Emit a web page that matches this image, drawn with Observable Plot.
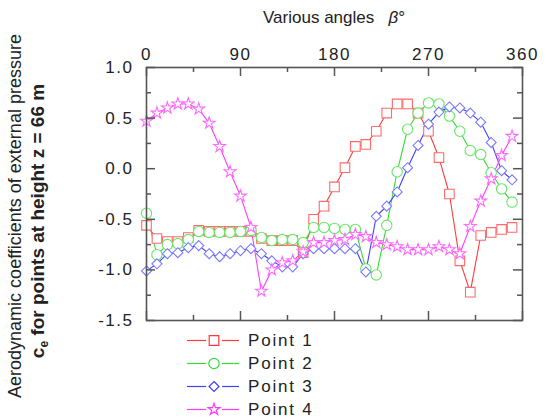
<!DOCTYPE html>
<html>
<head>
<meta charset="utf-8">
<script src="https://cdn.jsdelivr.net/npm/d3@7"></script>
<script src="https://cdn.jsdelivr.net/npm/@observablehq/plot@0.6"></script>
<style>
  html, body { margin: 0; padding: 0; background: #fff; }
  #wrap { position: relative; width: 547px; height: 419px; overflow: hidden; font-family: "Liberation Sans", Arial, sans-serif; color: #222; }
  #wrap svg.plot { position: absolute; left: 0; top: 0; }
  .lbl { position: absolute; white-space: nowrap; transform: translate(-50%, -50%) rotate(-90deg); }
  #title { position: absolute; left: 334px; top: 18px; transform: translate(-50%, -50%); font-size: 17px; white-space: nowrap; }
  #legend { position: absolute; left: 186px; top: 329px; }
  .row { display: flex; align-items: center; height: 23px; font-size: 17px; letter-spacing: 1.8px; }
  .row svg { display: block; margin-right: 6px; }
</style>
</head>
<body>
<div id="wrap"></div>
<script>
// ---- data ----
const angles = [0,10,20,30,40,50,60,70,80,90,100,110,120,130,140,150,160,170,180,190,200,210,220,230,240,250,260,270,280,290,300,310,320,330,340,350];
const point1 = [-0.56,-0.69,-0.72,-0.72,-0.68,-0.61,-0.62,-0.62,-0.62,-0.62,-0.62,-0.69,-0.71,-0.71,-0.71,-0.83,-0.50,-0.37,-0.18,0.01,0.22,0.24,0.37,0.55,0.64,0.64,0.55,0.37,0.11,-0.25,-0.91,-1.22,-0.66,-0.63,-0.60,-0.58];
const point2 = [-0.44,-0.85,-0.75,-0.74,-0.70,-0.62,-0.63,-0.63,-0.63,-0.62,-0.61,-0.68,-0.71,-0.70,-0.70,-0.73,-0.58,-0.58,-0.59,-0.60,-0.60,-0.99,-1.05,-0.56,-0.03,0.39,0.55,0.65,0.64,0.52,0.37,0.18,0.14,-0.04,-0.20,-0.33];
const point3 = [-1.01,-0.94,-0.84,-0.83,-0.78,-0.76,-0.84,-0.87,-0.84,-0.81,-0.79,-0.84,-0.91,-0.97,-0.97,-0.84,-0.79,-0.79,-0.79,-0.79,-0.79,-1.02,-0.47,-0.37,-0.23,0.01,0.23,0.44,0.56,0.61,0.60,0.55,0.46,0.26,-0.02,-0.11];
const point4 = [0.47,0.55,0.60,0.64,0.64,0.59,0.45,0.22,-0.03,-0.27,-0.58,-1.21,-1.00,-0.93,-0.91,-0.82,-0.73,-0.73,-0.71,-0.70,-0.65,-0.67,-0.73,-0.75,-0.77,-0.80,-0.80,-0.80,-0.77,-0.80,-0.84,-0.57,-0.32,-0.10,0.13,0.32];
const seriesNames = ["Point 1","Point 2","Point 3","Point 4"];
const xMajorTicks = [0,90,180,270,360];
const xMinorTicks = [45,135,225,315];
const yMajorTicks = [-1.5,-1.0,-0.5,0.0,0.5,1.0];
const yMinorTicks = [-1.25,-0.75,-0.25,0.25,0.75];
const xTitle = "Various angles";
const yTitle1 = "Aerodynamic coefficients of external pressure";
const yTitle2 = "for points at height z = 66 m";

// ---- styles ----
const lineColors = ["#ff3b3b","#33dd33","#3f3fff","#ff3bff"];
const markColors = ["#ff6a6a","#66e866","#7a7aff","#ff6aff"];
const symbols = ["square","circle","diamond2","star"];
const radii = [5.4, 5.2, 4.5, 3.7];

const values = [point1, point2, point3, point4];
const data = [];
values.forEach((arr, s) => arr.forEach((v, i) => data.push({series: seriesNames[s], angle: angles[i], value: v})));

const W = 547, H = 419, mt = 67, mb = 99, ml = 146, mr = 25;
const fw = W - ml - mr, fh = H - mt - mb;
const axisColor = "#555";

const marks = [];
seriesNames.forEach((name, s) => {
  marks.push(Plot.line(data.filter(d => d.series === name), {x: "angle", y: "value", stroke: lineColors[s], strokeWidth: 1.1}));
});
seriesNames.forEach((name, s) => {
  marks.push(Plot.dot(data.filter(d => d.series === name), {x: "angle", y: "value", symbol: symbols[s], r: radii[s], stroke: markColors[s], fill: "white", strokeWidth: 1.1}));
});
// ticks (inward, mirrored on all four sides)
marks.push(
  Plot.ruleX(xMajorTicks, {x: d => d, insetBottom: fh - 9, stroke: axisColor, strokeWidth: 1.5}),
  Plot.ruleX(xMinorTicks, {x: d => d, insetBottom: fh - 5, stroke: axisColor, strokeWidth: 1.5}),
  Plot.ruleX(xMajorTicks, {x: d => d, insetTop: fh - 9, stroke: axisColor, strokeWidth: 1.5}),
  Plot.ruleX(xMinorTicks, {x: d => d, insetTop: fh - 5, stroke: axisColor, strokeWidth: 1.5}),
  Plot.ruleY(yMajorTicks, {y: d => d, insetRight: fw - 9, stroke: axisColor, strokeWidth: 1.5}),
  Plot.ruleY(yMinorTicks, {y: d => d, insetRight: fw - 5, stroke: axisColor, strokeWidth: 1.5}),
  Plot.ruleY(yMajorTicks, {y: d => d, insetLeft: fw - 9, stroke: axisColor, strokeWidth: 1.5}),
  Plot.ruleY(yMinorTicks, {y: d => d, insetLeft: fw - 5, stroke: axisColor, strokeWidth: 1.5}),
  Plot.frame({stroke: axisColor, strokeWidth: 1.6}),
  Plot.text(xMajorTicks, {x: d => d, frameAnchor: "top", dy: -20, text: d => String(d), fontSize: 17, fill: "#222"}),
  Plot.text(yMajorTicks, {y: d => d, frameAnchor: "left", dx: -13, textAnchor: "end", text: d => d.toFixed(1), fontSize: 17, fill: "#222"})
);

const chart = Plot.plot({
  width: W, height: H,
  marginTop: mt, marginBottom: mb, marginLeft: ml, marginRight: mr,
  x: {domain: [0, 360], axis: null},
  y: {domain: [-1.5, 1.0], axis: null},
  style: {fontFamily: '"Liberation Sans", Arial, sans-serif', letterSpacing: "1.5px", background: "white"},
  marks
});
chart.classList.add("plot");
const wrap = document.getElementById("wrap");
wrap.appendChild(chart);

// title
const t = document.createElement("div");
t.id = "title";
t.innerHTML = xTitle + "&nbsp;&nbsp;&nbsp;<i>β</i>°";
wrap.appendChild(t);

// y labels
const l1 = document.createElement("div");
l1.className = "lbl";
l1.style.cssText = "left:15px;top:216px;font-size:18px;";
l1.textContent = yTitle1;
wrap.appendChild(l1);
const l2 = document.createElement("div");
l2.className = "lbl";
l2.style.cssText = "left:39px;top:221px;font-size:19px;font-weight:bold;";
l2.innerHTML = "c<sub style='font-size:12px'>e</sub> " + yTitle2;
wrap.appendChild(l2);

// legend
const leg = document.createElement("div");
leg.id = "legend";
seriesNames.forEach((name, s) => {
  const row = document.createElement("div");
  row.className = "row";
  const svg = d3.create("svg").attr("width", 56).attr("height", 23);
  svg.append("line").attr("x1", 1).attr("x2", 20).attr("y1", 11.5).attr("y2", 11.5).attr("stroke", lineColors[s]).attr("stroke-width", 1.2);
  svg.append("line").attr("x1", 36).attr("x2", 53).attr("y1", 11.5).attr("y2", 11.5).attr("stroke", lineColors[s]).attr("stroke-width", 1.2);
  const symMap = {square: d3.symbolSquare, circle: d3.symbolCircle, diamond2: d3.symbolDiamond2, star: d3.symbolStar};
  svg.append("path").attr("transform", "translate(28,11.5)")
    .attr("d", d3.symbol(symMap[symbols[s]], radii[s] * radii[s] * Math.PI)())
    .attr("fill", "white").attr("stroke", lineColors[s]).attr("stroke-width", 1.2);
  row.appendChild(svg.node());
  const sp = document.createElement("span");
  sp.textContent = name;
  row.appendChild(sp);
  leg.appendChild(row);
});
wrap.appendChild(leg);
</script>
</body>
</html>
